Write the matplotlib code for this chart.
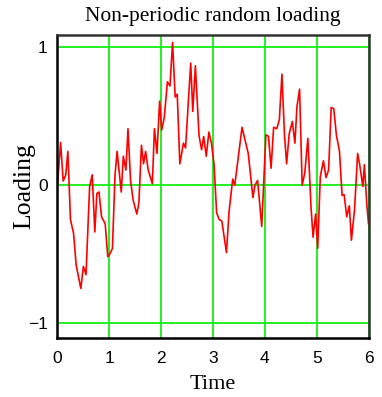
import matplotlib
matplotlib.use('Agg')
from matplotlib import pyplot as plt

# values
time = [0.0, 0.06, 0.11, 0.16, 0.20, 0.25, 0.31, 0.36, 0.45, 0.50,
        0.55, 0.62, 0.67, 0.72, 0.76, 0.80, 0.85, 0.92, 0.97, 1.01,
        1.06, 1.11, 1.15, 1.23, 1.27, 1.32, 1.36, 1.41, 1.46, 1.53,
        1.57, 1.62, 1.66, 1.70, 1.75, 1.83, 1.87, 1.92, 1.97, 2.01,
        2.06, 2.12, 2.17, 2.22, 2.27, 2.31, 2.36, 2.43, 2.47, 2.57,
        2.61, 2.66, 2.73, 2.78, 2.82, 2.87, 2.92, 2.97, 3.02, 3.07,
        3.12, 3.17, 3.26, 3.31, 3.38, 3.42, 3.56, 3.68, 3.77, 3.81,
        3.86, 3.94, 4.02, 4.07, 4.12, 4.17, 4.23, 4.28, 4.33, 4.38,
        4.42, 4.47, 4.53, 4.58, 4.62, 4.67, 4.72, 4.77, 4.83, 4.89,
        4.93, 4.98, 5.02, 5.07, 5.13, 5.18, 5.23, 5.28, 5.33, 5.38,
        5.44, 5.49, 5.53, 5.58, 5.63, 5.67, 5.73, 5.79, 5.83, 5.89,
        5.92, 5.97, 6.0]
loading = [0.0, 0.31, 0.03, 0.075, 0.245, -0.25, -0.35, -0.58, -0.75, -0.59,
           -0.65, -0.01, 0.075, -0.34, -0.06, -0.05, -0.23, -0.28, -0.52, -0.50,
           -0.46, 0.075, 0.245, -0.05, 0.21, 0.11, 0.41, 0.03, -0.11, -0.21,
           -0.13, 0.29, 0.155, 0.245, 0.11, 0.01, 0.41, 0.23, 0.61, 0.40,
           0.49, 0.75, 0.72, 1.036, 0.64, 0.66, 0.155, 0.305, 0.27, 0.886,
           0.535, 0.867, 0.36, 0.257, 0.353, 0.21, 0.385, 0.305, 0.15, -0.20,
           -0.25, -0.26, -0.49, -0.19, 0.044, 0.0, 0.42, 0.23, -0.09, 0.0,
           0.034, -0.30, 0.365, 0.355, 0.123, 0.42, 0.41, 0.475, 0.806, 0.355,
           0.155, 0.373, 0.462, 0.305, 0.571, 0.697, 0.0, 0.087, 0.34, -0.155,
           -0.378, -0.21, -0.458, 0.063, 0.177, 0.055, 0.11, 0.564, 0.555, 0.365,
           0.245, -0.075, -0.07, -0.23, -0.15, -0.40, -0.18, 0.23, 0.148, -0.01,
           0.148, -0.155, -0.28]
xticks = [0, 1, 2, 3, 4, 5, 6]
yticks = [-1, 0, 1]

fig = plt.figure(figsize=(3.82, 3.97), dpi=100)
ax = fig.add_axes([0.1505, 0.1486, 0.8142, 0.7632])

ax.plot(time, loading, color='#ff0000', lw=1.2, zorder=3)

ax.set_xlim(0, 6)
ax.set_ylim(-1.11, 1.09)
ax.set_xticks(xticks)
ax.set_yticks(yticks)
ax.grid(True, color='#00ee00', lw=1.2, zorder=1)
ax.tick_params(axis='x', length=0, labelsize=12.5, pad=9)
ax.tick_params(axis='y', length=0, labelsize=12.5, pad=7)
for lab in ax.get_xticklabels() + ax.get_yticklabels():
    lab.set_family('Liberation Sans')

for side in ['left', 'bottom']:
    ax.spines[side].set_color('black')
    ax.spines[side].set_linewidth(1.8)
for side in ['top', 'right']:
    ax.spines[side].set_color('#333333')
    ax.spines[side].set_linewidth(1.8)
for s in ax.spines.values():
    s.set_zorder(4)

ax.set_title('Non-periodic random loading', family='Liberation Serif',
             fontsize=15.5, pad=10)
ax.set_xlabel('Time', family='Liberation Serif', fontsize=16, labelpad=7)
ax.set_ylabel('Loading', family='Liberation Serif', fontsize=18.5)
ax.yaxis.set_label_coords(-0.108, 0.5)
ax.yaxis.label.set_va('center')

fig.savefig('out.png', dpi=100)
